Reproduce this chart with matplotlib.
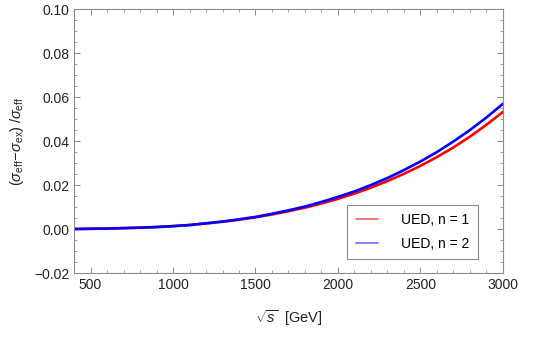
import numpy as np
import matplotlib
matplotlib.use('Agg')
import matplotlib.pyplot as plt
from matplotlib.lines import Line2D
from matplotlib.ticker import MultipleLocator, FuncFormatter

plt.rcParams['font.family'] = ['Liberation Sans', 'DejaVu Sans']
plt.rcParams['mathtext.fontset'] = 'custom'
plt.rcParams['mathtext.rm'] = 'Liberation Sans'
plt.rcParams['mathtext.it'] = 'Liberation Sans:italic'

# sqrt(s) in GeV
sqrt_s = [400, 500, 600, 700, 800, 900, 1000, 1100, 1200, 1300, 1400, 1500, 1600, 1700,
          1800, 1900, 2000, 2100, 2200, 2300, 2400, 2500, 2600, 2700, 2800, 2900, 3000]
ued_n1 = [0.0, 0.0001, 0.0002, 0.0004, 0.0006, 0.0009, 0.0013, 0.0018, 0.0025, 0.0033,
          0.0042, 0.0053, 0.0066, 0.0081, 0.0097, 0.0116, 0.0137, 0.0161, 0.0188, 0.0218,
          0.0251, 0.0287, 0.0327, 0.0371, 0.0420, 0.0474, 0.0532]
ued_n2 = [0.0, 0.0001, 0.0002, 0.0004, 0.0006, 0.0009, 0.0013, 0.0018, 0.0026, 0.0034,
          0.0044, 0.0055, 0.0069, 0.0085, 0.0102, 0.0123, 0.0146, 0.0171, 0.0200, 0.0232,
          0.0268, 0.0307, 0.0350, 0.0398, 0.0450, 0.0507, 0.0569]
labels = ['UED, n = 1', 'UED, n = 2']

fig = plt.figure(figsize=(5.45, 3.41), dpi=100)
ax = fig.add_axes([0.1358, 0.1994, 0.9229 - 0.1358, 0.9736 - 0.1994])

ax.plot(sqrt_s, ued_n1, color='#ff0000', lw=1.9)
ax.plot(sqrt_s, ued_n2, color='#0000ff', lw=1.9)

ax.set_xlim(400, 3000)
ax.set_ylim(-0.02, 0.10)
ax.xaxis.set_major_locator(MultipleLocator(500))
ax.xaxis.set_minor_locator(MultipleLocator(100))
ax.yaxis.set_major_locator(MultipleLocator(0.02))
ax.yaxis.set_minor_locator(MultipleLocator(0.005))
ax.yaxis.set_major_formatter(FuncFormatter(lambda v, p: f'{v:.2f}'.replace('-', '\u2212')))

gray = '#8c8c8c'
for sp in ax.spines.values():
    sp.set_color(gray)
    sp.set_linewidth(0.8)
ax.tick_params(which='both', direction='in', top=True, right=True, color=gray,
               labelsize=10, labelcolor='#222222')
ax.tick_params(which='major', length=4.5, width=0.7)
ax.tick_params(which='minor', length=2.5, width=0.6)

ax.set_ylabel(r'$(\sigma_{\rm eff}\!-\!\sigma_{\rm ex})\;/\sigma_{\rm eff}$',
              fontsize=10.5, color='#222222', labelpad=6)
ax.set_xlabel(r'$\sqrt{s}$  [GeV]', fontsize=10.5, color='#222222', labelpad=12)

handles = [Line2D([], [], color='#ff5050', lw=1.1),
           Line2D([], [], color='#6060ff', lw=1.1)]
leg = ax.legend(handles, labels, loc='lower right', bbox_to_anchor=(0.942, 0.053),
                borderaxespad=0, fontsize=10, fancybox=False, framealpha=1,
                edgecolor=gray, handlelength=1.6, handletextpad=1.7,
                borderpad=0.6, labelspacing=0.7)
leg.get_frame().set_linewidth(0.8)

fig.savefig('out.png', dpi=100)
